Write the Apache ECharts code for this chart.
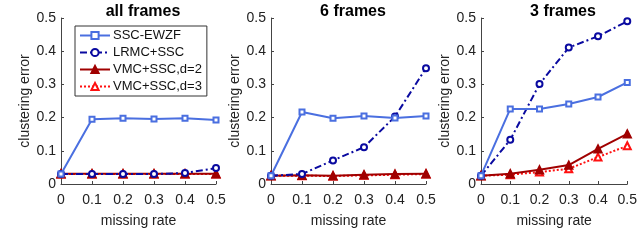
<!DOCTYPE html>
<html><head><meta charset="utf-8">
<script src="https://cdn.jsdelivr.net/npm/echarts@6/dist/echarts.min.js"></script>
<style>html,body{margin:0;padding:0;background:#fff}#c{width:640px;height:249px}</style>
</head><body><div id="c"></div>
<script>
const xRates = [0, 0.1, 0.2, 0.3, 0.4, 0.5];
const panelTitles = ['all frames', '6 frames', '3 frames'];
const seriesNames = ['SSC-EWZF', 'LRMC+SSC', 'VMC+SSC,d=2', 'VMC+SSC,d=3'];
// all frames
const allSSC  = [0.030, 0.195, 0.198, 0.196, 0.198, 0.193];
const allLRMC = [0.030, 0.030, 0.030, 0.030, 0.033, 0.048];
const allVMC2 = [0.031, 0.031, 0.031, 0.031, 0.031, 0.031];
const allVMC3 = [0.030, 0.030, 0.030, 0.030, 0.030, 0.030];
// 6 frames
const f6SSC  = [0.025, 0.217, 0.198, 0.205, 0.199, 0.205];
const f6LRMC = [0.025, 0.030, 0.071, 0.111, 0.203, 0.349];
const f6VMC2 = [0.025, 0.026, 0.025, 0.028, 0.030, 0.031];
const f6VMC3 = [0.025, 0.025, 0.024, 0.026, 0.028, 0.030];
// 3 frames
const f3SSC  = [0.025, 0.226, 0.226, 0.241, 0.262, 0.306];
const f3LRMC = [0.025, 0.133, 0.301, 0.411, 0.445, 0.490];
const f3VMC2 = [0.025, 0.031, 0.043, 0.057, 0.106, 0.151];
const f3VMC3 = [0.025, 0.028, 0.036, 0.046, 0.081, 0.115];
const yTicks = [0, 0.1, 0.2, 0.3, 0.4, 0.5];

const panels = [
  [allSSC, allLRMC, allVMC2, allVMC3],
  [f6SSC, f6LRMC, f6VMC2, f6VMC3],
  [f3SSC, f3LRMC, f3VMC2, f3VMC3]
];
const styles = [
  {color:'#4a6fe0', symbol:'emptyRect', type:'solid', size:5},
  {color:'#0a0aa0', symbol:'emptyCircle', type:[7,3,2,3], size:6},
  {color:'#a00000', symbol:'triangle', type:'solid', size:8},
  {color:'#ff1010', symbol:'emptyTriangle', type:[2,2], size:7}
];
const lefts = [61, 271, 481];
const font = 'Liberation Sans, Arial, sans-serif';
const grids = [], xAxes = [], yAxes = [], titles = [], series = [];
panels.forEach((p, i) => {
  grids.push({left: lefts[i], top: 18, width: 155, height: 166});
  titles.push({text: panelTitles[i], left: lefts[i] + 77, top: -1, textAlign: 'center',
    textStyle: {fontFamily: font, fontWeight: 'bold', fontSize: 16, color: '#000'}});
  xAxes.push({type:'value', gridIndex:i, min:0, max:0.5, interval:0.1,
    name:'missing rate', nameLocation:'middle', nameGap:30,
    nameTextStyle:{fontFamily:font, fontSize:14, color:'#222'},
    axisLine:{lineStyle:{color:'#444', width:1}},
    axisTick:{inside:true, length:3, lineStyle:{color:'#444'}},
    axisLabel:{fontFamily:font, fontSize:14, color:'#222', margin:9,
      formatter: v => String(Math.round(v*10)/10)},
    splitLine:{show:false}});
  yAxes.push({type:'value', gridIndex:i, min:0, max:0.5, interval:0.1,
    name:'clustering error', nameLocation:'middle', nameGap:25,
    nameTextStyle:{fontFamily:font, fontSize:14, color:'#222'},
    axisLine:{show:true, lineStyle:{color:'#444', width:1}},
    axisTick:{show:true, inside:true, length:3, lineStyle:{color:'#444'}},
    axisLabel:{fontFamily:font, fontSize:14, color:'#222', margin:5,
      formatter: v => String(Math.round(v*10)/10)},
    splitLine:{show:false}});
  p.forEach((vals, k) => {
    const s = styles[k];
    series.push({type:'line', name: seriesNames[k], xAxisIndex:i, yAxisIndex:i,
      data: xRates.map((x, j) => [x, vals[j]]),
      symbol: s.symbol, symbolSize: s.size,
      lineStyle:{color:s.color, width:2, type:s.type},
      itemStyle:{color:s.color, borderColor:s.color, borderWidth:1.5},
      z: 10 - k});
  });
});
const chart = echarts.init(document.getElementById('c'), null, {renderer:'canvas'});
chart.setOption({
  animation:false,
  backgroundColor:'#fff',
  title: titles,
  grid: grids, xAxis: xAxes, yAxis: yAxes, series,
  legend: {data: seriesNames, orient:'vertical', left: 75, top: 26,
    itemWidth: 30, itemHeight: 9, itemGap: 4, padding:[3,5,3,4],
    borderColor:'#333', borderWidth:1, backgroundColor:'#fff',
    textStyle:{fontFamily:font, fontSize:13, color:'#111', padding:[0,0,0,-2]}}
});
</script></body></html>
